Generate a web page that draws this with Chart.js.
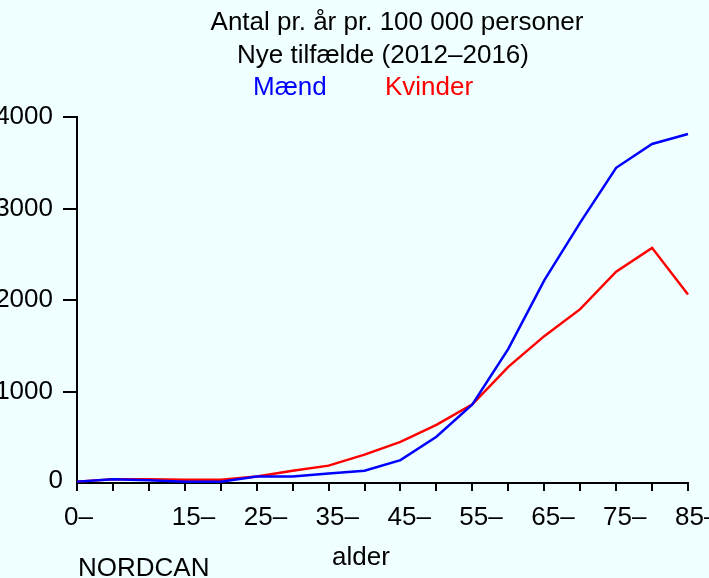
<!DOCTYPE html>
<html>
<head>
<meta charset="utf-8">
<script src="https://cdn.jsdelivr.net/npm/chart.js@4.4.0/dist/chart.umd.min.js"></script>
<style>
  html, body { margin: 0; padding: 0; background: #F0FFFF; }
  canvas { display: block; }
</style>
</head>
<body>
<canvas id="myChart" width="709" height="578"></canvas>
<script>
// age groups (5 year steps), only some of them get a label on the axis
var ageGroups = ['0–','5–','10–','15–','20–','25–','30–','35–','40–','45–','50–','55–','60–','65–','70–','75–','80–','85–'];
var shownLabels = ['0–','15–','25–','35–','45–','55–','65–','75–','85–'];

// new cases per year per 100 000 persons
var maend   = [15, 40, 30, 15, 15, 70, 70, 105, 135, 250, 505, 860, 1465, 2215, 2845, 3445, 3705, 3815];
var kvinder = [15, 40, 40, 35, 35, 70, 135, 190, 310, 450, 635, 860, 1270, 1605, 1900, 2310, 2570, 2060];

var yTicks = [0, 1000, 2000, 3000, 4000];

var FONT = "'Liberation Sans', Arial, Helvetica, sans-serif";

// title, legend text and footer are drawn by hand
var textPlugin = {
  id: 'texts',
  afterDraw: function(chart) {
    var ctx = chart.ctx;
    ctx.save();
    ctx.font = '26px ' + FONT;
    ctx.textBaseline = 'middle';
    ctx.fillStyle = 'black';
    ctx.textAlign = 'center';
    ctx.fillText('Antal pr. år pr. 100 000 personer', 397, 23);
    ctx.fillText('Nye tilfælde (2012–2016)', 383, 56);
    ctx.textAlign = 'left';
    ctx.fillText('alder', 332, 558);
    ctx.fillText('NORDCAN', 78, 569);
    // the zero label sits right against the axis, without a tick
    ctx.textAlign = 'right';
    ctx.fillText(String(yTicks[0]), 63, chart.scales.y.getPixelForValue(yTicks[0]) - 2);
    ctx.textAlign = 'left';
    ctx.fillStyle = '#0000FF';
    ctx.fillText('Mænd', 253, 88);
    ctx.fillStyle = '#FF0000';
    ctx.fillText('Kvinder', 385, 88);
    ctx.restore();
  }
};

const ctx = document.getElementById('myChart');
const myChart = new Chart(ctx, {
  type: 'line',
  data: {
    labels: ageGroups,
    datasets: [
      { label: 'Mænd', data: maend, borderColor: '#0000FF', borderWidth: 2.5, pointRadius: 0, tension: 0, fill: false },
      { label: 'Kvinder', data: kvinder, borderColor: '#FF0000', borderWidth: 2.5, pointRadius: 0, tension: 0, fill: false }
    ]
  },
  options: {
    responsive: false,
    animation: false,
    devicePixelRatio: 1,
    layout: { padding: { top: 117, right: 21, left: 0, bottom: 0 } },
    plugins: {
      legend: { display: false },
      title: { display: false },
      tooltip: { enabled: false }
    },
    scales: {
      x: {
        type: 'category',
        offset: false,
        grid: { drawOnChartArea: false, drawTicks: true, tickLength: 8, color: 'black', lineWidth: 2 },
        border: { display: true, color: 'black', width: 2 },
        ticks: {
          autoSkip: false,
          maxRotation: 0,
          minRotation: 0,
          padding: 11,
          align: 'start',
          labelOffset: -13,
          color: 'black',
          font: { family: FONT, size: 26 },
          callback: function(val, i) {
            var lab = ageGroups[i];
            return shownLabels.indexOf(lab) >= 0 ? lab : '';
          }
        },
        afterFit: function(scale) {
          scale.height = 95;
          scale.paddingLeft = 0;
          scale.paddingRight = 0;
        }
      },
      y: {
        min: 0,
        max: 4000,
        afterBuildTicks: function(scale) {
          scale.ticks = yTicks.map(function(v) { return { value: v }; });
        },
        grid: {
          drawOnChartArea: false,
          drawTicks: true,
          tickLength: 14,
          lineWidth: 2,
          color: function(c) { return (c.tick && c.tick.value === 0) ? 'rgba(0,0,0,0)' : 'black'; }
        },
        border: { display: true, color: 'black', width: 2 },
        ticks: {
          padding: 10,
          color: 'black',
          font: { family: FONT, size: 26 },
          callback: function(v) { return v === 0 ? '' : String(v); }
        },
        afterFit: function(scale) {
          scale.width = 77;
          scale.paddingTop = 0;
          scale.paddingBottom = 0;
        }
      }
    }
  },
  plugins: [textPlugin]
});
</script>
</body>
</html>
